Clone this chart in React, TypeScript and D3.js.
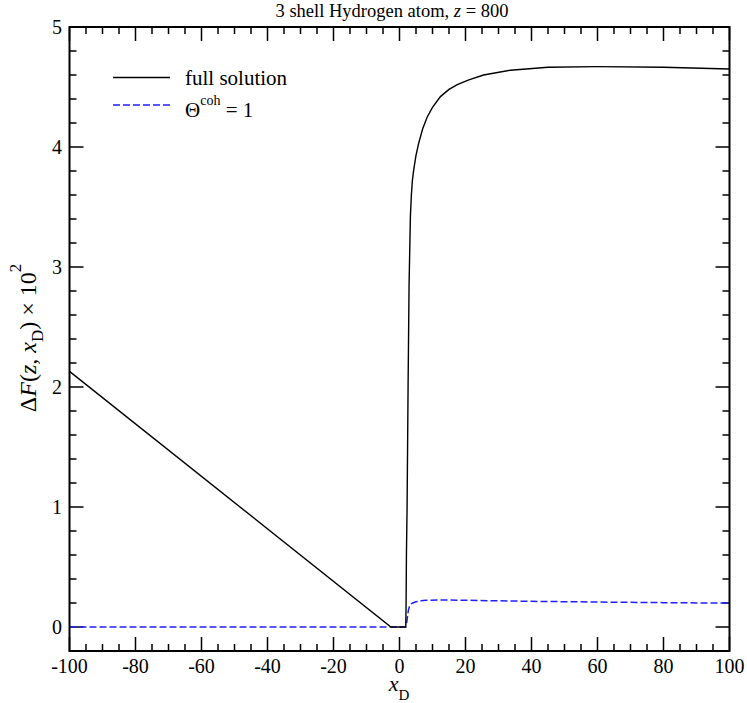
import React from "react";
import * as d3 from "d3";

const fullX = [-100, -2.6, 1.9, 2.0, 2.1, 2.3, 2.6, 2.9, 3.3, 3.6, 3.9, 4.3, 5.0, 5.8, 7.0, 8.4, 10, 12.4, 15, 17.5, 21, 25.5, 33.6, 45, 60, 80, 100];
const fullY = [2.13, 0, 0, 0.2, 0.6, 1.0, 2.0, 2.85, 3.42, 3.6, 3.72, 3.81, 3.93, 4.03, 4.15, 4.25, 4.33, 4.42, 4.48, 4.52, 4.56, 4.6, 4.64, 4.665, 4.67, 4.665, 4.65];

const cohX = [-100, 1.8, 2.1, 2.4, 2.7, 3.0, 3.4, 4.0, 5.0, 6.5, 8, 12, 20, 30, 40, 60, 80, 100];
const cohY = [0, 0, 0.02, 0.08, 0.14, 0.17, 0.19, 0.2, 0.21, 0.218, 0.222, 0.225, 0.223, 0.218, 0.214, 0.208, 0.203, 0.199];

const xMajor = [-100, -80, -60, -40, -20, 0, 20, 40, 60, 80, 100];
const yMajor = [0, 1, 2, 3, 4, 5];

const W = 747, H = 703;
const L = 69.5, R = 729.5, T = 27, B = 651;
const FONT = "'Liberation Serif', 'Times New Roman', serif";

export default function App() {
  const x = d3.scaleLinear().domain([-100, 100]).range([L, R]);
  const y = d3.scaleLinear().domain([-0.2, 5]).range([B, T]);
  const line = d3.line<[number, number]>().x((d) => x(d[0])).y((d) => y(d[1])).curve(d3.curveLinear);
  const fullPts = fullX.map((v, i) => [v, fullY[i]] as [number, number]);
  const cohPts = cohX.map((v, i) => [v, cohY[i]] as [number, number]);

  const xMinor = d3.range(-95, 100, 5).filter((v) => v % 20 !== 0);
  const yMinor = d3.range(0.2, 5, 0.2).map((v) => Math.round(v * 10) / 10).filter((v) => Math.abs(v - Math.round(v)) > 1e-6);

  const tk = { stroke: "#000", strokeWidth: 1.5 };
  const MJ = 14, MN = 7;

  return (
    <svg width={W} height={H} style={{ position: "absolute", left: 0, top: 0, background: "#fff" }} fontFamily={FONT}>
      <rect x={0} y={0} width={W} height={H} fill="#fff" />
      {/* title */}
      <text x={392} y={16.5} textAnchor="middle" fontSize={18.5}>
        3 shell Hydrogen atom, <tspan fontStyle="italic">z</tspan> = 800
      </text>
      {/* ticks */}
      {xMajor.map((v) => (
        <g key={"xm" + v}>
          <line x1={x(v)} x2={x(v)} y1={B} y2={B - MJ} {...tk} />
          <line x1={x(v)} x2={x(v)} y1={T} y2={T + MJ} {...tk} />
          <text x={x(v)} y={673} textAnchor="middle" fontSize={20}>{v}</text>
        </g>
      ))}
      {xMinor.map((v) => (
        <g key={"xn" + v}>
          <line x1={x(v)} x2={x(v)} y1={B} y2={B - MN} {...tk} />
          <line x1={x(v)} x2={x(v)} y1={T} y2={T + MN} {...tk} />
        </g>
      ))}
      {yMajor.map((v) => (
        <g key={"ym" + v}>
          <line x1={L} x2={L + MJ} y1={y(v)} y2={y(v)} {...tk} />
          <line x1={R} x2={R - MJ} y1={y(v)} y2={y(v)} {...tk} />
          <text x={62} y={y(v) + 7} textAnchor="end" fontSize={20}>{v}</text>
        </g>
      ))}
      {yMinor.map((v) => (
        <g key={"yn" + v}>
          <line x1={L} x2={L + MN} y1={y(v)} y2={y(v)} {...tk} />
          <line x1={R} x2={R - MN} y1={y(v)} y2={y(v)} {...tk} />
        </g>
      ))}
      {/* data */}
      <path d={line(cohPts) || ""} fill="none" stroke="#2020ff" strokeWidth={1.5} strokeDasharray="7,3" />
      <path d={line(fullPts) || ""} fill="none" stroke="#000" strokeWidth={1.4} />
      {/* frame */}
      <rect x={L} y={T} width={R - L} height={B - T} fill="none" stroke="#000" strokeWidth={2} />
      {/* axis labels */}
      <text x={399} y={691} textAnchor="middle" fontSize={22}>
        <tspan fontStyle="italic">x</tspan>
        <tspan dy={9} fontSize={15}>D</tspan>
      </text>
      <text transform="translate(36,338) rotate(-90)" textAnchor="middle" fontSize={24}>
        <tspan>Δ</tspan>
        <tspan fontStyle="italic">F</tspan>
        <tspan>(</tspan>
        <tspan fontStyle="italic">z</tspan>
        <tspan>, </tspan>
        <tspan fontStyle="italic">x</tspan>
        <tspan dy={7} fontSize={17}>D</tspan>
        <tspan dy={-7}>) × 10</tspan>
        <tspan dy={-15} fontSize={17}>2</tspan>
      </text>
      {/* legend */}
      <line x1={113} x2={170} y1={77.5} y2={77.5} stroke="#000" strokeWidth={1.4} />
      <text x={185} y={85} fontSize={21}>full solution</text>
      <line x1={113} x2={170} y1={105} y2={105} stroke="#2020ff" strokeWidth={1.5} strokeDasharray="7,3" />
      <text x={185} y={116.5} fontSize={21}>
        Θ<tspan dy={-12} fontSize={14}>coh</tspan>
        <tspan dy={12}> = 1</tspan>
      </text>
    </svg>
  );
}
